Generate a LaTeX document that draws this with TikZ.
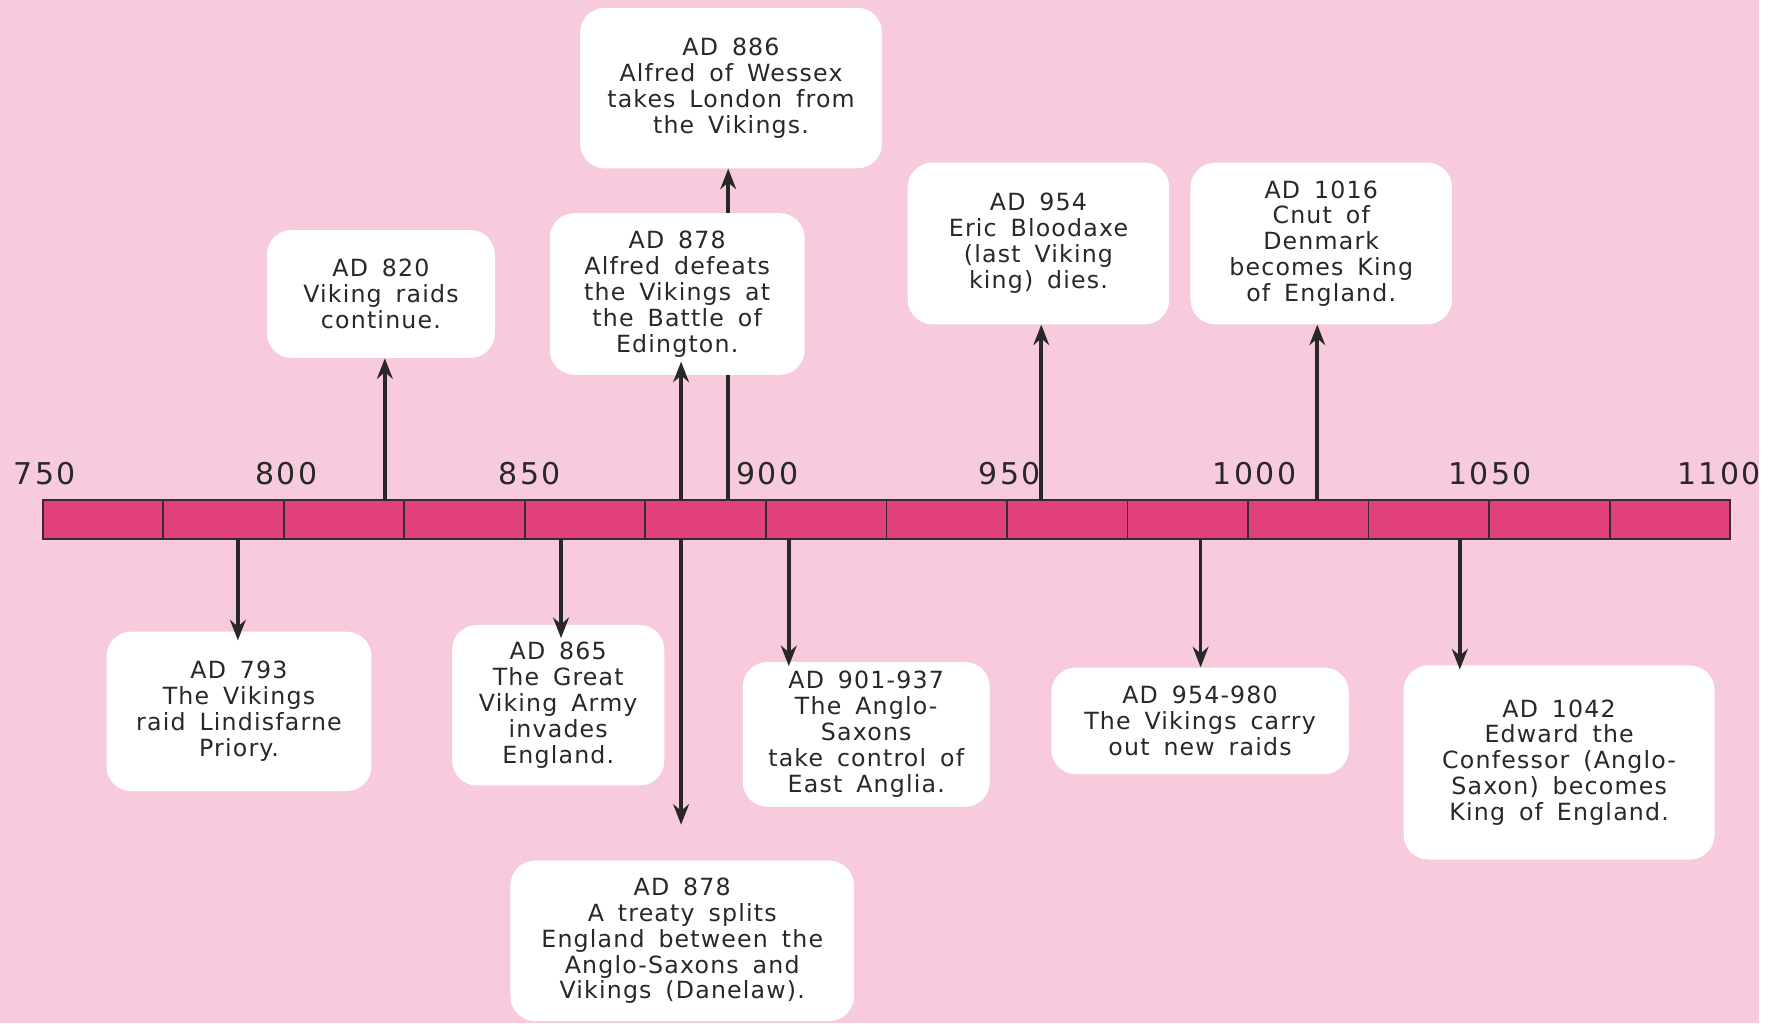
\documentclass[tikz,border=0pt]{standalone}
\usepackage{fontspec}
\setmainfont[LetterSpace=5,WordSpace=1.6]{DejaVu Sans}
\newfontfamily\yrfont[LetterSpace=8]{DejaVu Sans}
\usetikzlibrary{arrows.meta}
\definecolor{bg}{RGB}{247,203,221}
\definecolor{barc}{RGB}{224,65,122}
\definecolor{ink}{RGB}{40,40,40}
\begin{document}
\begin{tikzpicture}[x=0.025cm,y=-0.025cm,
  >={Stealth[length=13pt,width=10pt]},
  ev/.style={fill=white,rounded corners=0.55cm,align=center,inner sep=0pt,text=ink,
    font=\fontsize{15}{16.4}\selectfont},
  arr/.style={->,line width=2.3pt,draw=ink}]
\fill[bg] (0,0) rectangle (1568,912);
% timeline
\draw[fill=barc,draw=ink!90!barc,line width=1.3pt] (38,446) rectangle (1542,480);
\foreach \i in {1,...,13}
{
\draw[ink!90!barc,line width=1.1pt] ({38+\i*107.43},446)--({38+\i*107.43},480);
}
\foreach \yr/\x in {750/40,800/255,850/472,900/684,950/900,1000/1118,1050/1328,1100/1532}
{
\node[text=ink,font=\yrfont\fontsize{19}{22}\selectfont] at (\x,422) {\yr};
}
% points on the bar
\coordinate (u820) at (343,446);
\coordinate (u878) at (607,446);
\coordinate (u886) at (649,446);
\coordinate (u954) at (928,446);
\coordinate (u1016) at (1174,446);
\coordinate (d793) at (212,480);
\coordinate (d865) at (500,480);
\coordinate (d878) at (607,480);
\coordinate (d901) at (703,480);
\coordinate (d954) at (1070,480);
\coordinate (d1042) at (1301,480);
\coordinate (e878) at (607,735);
% above
\node[ev,minimum width=6.725cm,minimum height=3.575cm] (b886) at (651.5,78.5)
  {AD 886\\Alfred of Wessex\\takes London from\\the Vikings.};
\draw[arr] (u886)--(u886|-b886.south);
\node[ev,minimum width=5.075cm,minimum height=2.85cm] (b820) at (339.5,262)
  {AD 820\\Viking raids\\continue.};
\node[ev,minimum width=5.675cm,minimum height=3.6cm] (b878a) at (603.5,262)
  {AD 878\\Alfred defeats\\the Vikings at\\the Battle of\\Edington.};
\node[ev,minimum width=5.825cm,minimum height=3.6cm] (b954) at (925.5,217)
  {AD 954\\Eric Bloodaxe\\(last Viking\\king) dies.};
\node[ev,minimum width=5.825cm,minimum height=3.6cm] (b1016) at (1177.5,217)
  {AD 1016\\Cnut of\\Denmark\\becomes King\\of England.};
% below
\node[ev,minimum width=5.9cm,minimum height=3.55cm] (b793) at (213,634)
  {AD 793\\The Vikings\\raid Lindisfarne\\Priory.};
\node[ev,minimum width=4.725cm,minimum height=3.575cm] (b865) at (497.5,628.5)
  {AD 865\\The Great\\Viking Army\\invades\\England.};
\node[ev,minimum width=7.65cm,minimum height=3.575cm] (b878b) at (608,838.5)
  {AD 878\\A treaty splits\\England between the\\Anglo-Saxons and\\Vikings (Danelaw).};
\node[ev,minimum width=5.5cm,minimum height=3.225cm] (b901) at (772,654.5)
  {AD 901-937\\The Anglo-\\Saxons\\take control of\\East Anglia.};
\node[ev,minimum width=6.625cm,minimum height=2.375cm] (b954b) at (1069.5,642.5)
  {AD 954-980\\The Vikings carry\\out new raids};
\node[ev,minimum width=6.925cm,minimum height=4.325cm] (b1042) at (1389.5,679.5)
  {AD 1042\\Edward the\\Confessor (Anglo-\\Saxon) becomes\\King of England.};
% arrows
\draw[arr] (u820)--(u820|-b820.south);
\draw[arr,shorten >=-0.3cm] (u878)--(u878|-b878a.south);
\draw[arr] (u954)--(u954|-b954.south);
\draw[arr] (u1016)--(u1016|-b1016.south);
\draw[arr,shorten >=-0.2cm] (d793)--(d793|-b793.north);
\draw[arr,shorten >=-0.3cm] (d865)--(d865|-b865.north);
\draw[arr] (d878)--(e878);
\draw[arr,shorten >=-0.1cm] (d901)--(d901|-b901.north);
\draw[arr] (d954)--(d954|-b954b.north);
\draw[arr,shorten >=-0.1cm] (d1042)--(d1042|-b1042.north);
\end{tikzpicture}
\end{document}
